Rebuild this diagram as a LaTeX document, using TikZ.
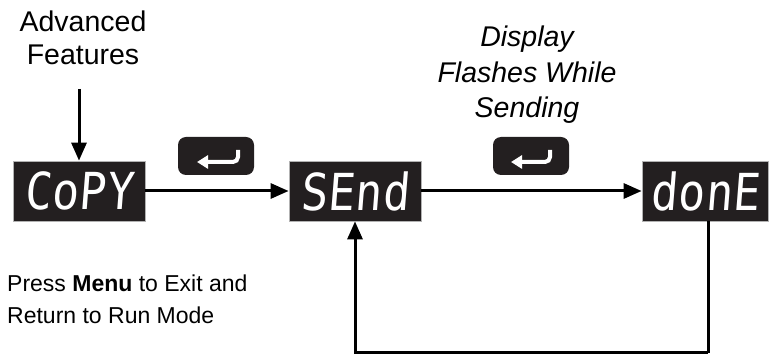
\documentclass[tikz,border=0pt]{standalone}
\usepackage{fontspec}
\setmainfont{Liberation Sans}
\newfontfamily\segfont[FakeStretch=0.88,FakeSlant=0.08]{DejaVu Sans Mono}
\usetikzlibrary{arrows.meta}
\definecolor{dispblack}{HTML}{231F20}
\begin{document}
\begin{tikzpicture}[x=1pt,y=-1pt,
  disp/.style={fill=dispblack, draw=gray!60, line width=0.8pt, minimum height=60pt,
    inner sep=0pt, text=white, font=\segfont\fontsize{51}{51}\selectfont},
  btn/.style={fill=dispblack, draw=none, rounded corners=8pt, minimum width=76pt,
    minimum height=38pt, inner sep=0pt},
  icon/.style={draw=white, line width=4pt, rounded corners=5pt,
    -{Triangle[length=11pt,width=13pt]}},
  conn/.style={draw=black, line width=3pt, -{Triangle[length=18pt,width=15pt]}},
  line/.style={draw=black, line width=3pt},
  lbl/.style={inner sep=0pt, align=center, font=\fontsize{28.5}{33}\selectfont},
  ilbl/.style={inner sep=0pt, align=center, font=\fontsize{28.5}{35.5}\selectfont\itshape},
  note/.style={inner sep=0pt, align=left, font=\fontsize{23}{32}\selectfont}
]
\useasboundingbox (0,0) rectangle (769,355);

\node[disp, minimum width=132pt] (copy) at (79,191) {CoPY};
\node[disp, minimum width=132pt] (send) at (355,191) {SEnd};
\node[disp, minimum width=126pt] (done) at (705,191) {donE};

\node[btn] (b1) at (216,156) {};
\node[btn] (b2) at (531,156) {};
\draw[icon] ([shift={(22,-6)}]b1.center) -- ([shift={(22,6)}]b1.center) -- ([shift={(-19,6)}]b1.center);
\draw[icon] ([shift={(19,-6)}]b2.center) -- ([shift={(19,6)}]b2.center) -- ([shift={(-20,6)}]b2.center);

\node[lbl, anchor=base] (adv) at (83,65) {Advanced\\Features};
\node[ilbl, anchor=base] (flash) at (527,118) {Display\\Flashes While\\Sending};
\node[note, anchor=base west] (press) at (7,324) {Press \textbf{Menu} to Exit and\\Return to Run Mode};

\coordinate (advend) at (79,89);
\draw[conn] (advend) -- (copy.north);
\draw[conn] (copy.east) -- (send.west);
\draw[conn] (send.east) -- (done.west);
\coordinate (loopr) at (708,353);
\coordinate (loopl) at (355,353);
\draw[line] ([xshift=3pt]done.south) -- (loopr);
\draw[conn] (loopr) -- (loopl) -- (send.south);
\end{tikzpicture}
\end{document}
